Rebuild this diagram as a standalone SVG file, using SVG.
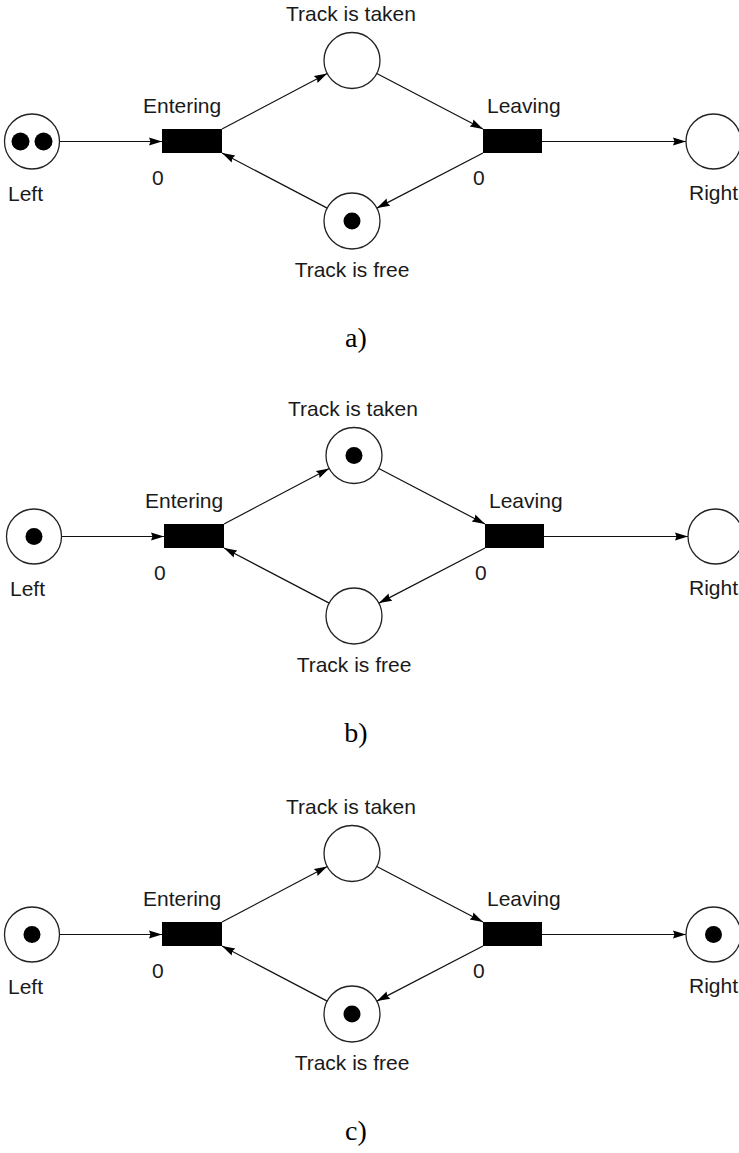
<svg xmlns="http://www.w3.org/2000/svg" width="739" height="1153" viewBox="0 0 739 1153">
<defs>
<marker id="arr" markerUnits="userSpaceOnUse" markerWidth="15" markerHeight="10" refX="13" refY="5" orient="auto">
<path d="M0,1 L13,5 L0,9 L1.5,5 z" fill="#000"/>
</marker>
<style>
.place{fill:#fff;stroke:#222;stroke-width:1.3}
.tok{fill:#000}
.tr{fill:#000}
.arc{fill:none;stroke:#111;stroke-width:1.2;marker-end:url(#arr)}
.lbl{font-family:"Liberation Sans",Arial,sans-serif;font-size:21px;fill:#1a1a1a}
.mid{text-anchor:middle}
.cap{font-family:"Liberation Serif","Times New Roman",serif;font-size:28px;fill:#000;text-anchor:middle}
</style>
</defs>
<rect width="739" height="1153" fill="#fff"/>

<!-- Panel a -->
<g id="panel-a">
<g id="a-connectors">
<line class="arc" x1="59.5" y1="141.5" x2="162" y2="141.5"/>
<line class="arc" x1="222" y1="129" x2="327.2" y2="73.5"/>
<line class="arc" x1="376.8" y1="73.5" x2="483" y2="129"/>
<line class="arc" x1="483" y1="153" x2="376.9" y2="208.1"/>
<line class="arc" x1="327.2" y1="208.1" x2="222" y2="153"/>
<line class="arc" x1="542" y1="141.5" x2="686" y2="141.5"/>
</g>
<g id="a-left"><circle class="place" cx="32" cy="141.5" r="27.5"/><circle class="tok" cx="20.5" cy="141.5" r="9"/><circle class="tok" cx="43.5" cy="141.5" r="9"/><text class="lbl" x="8" y="201">Left</text></g>
<g id="a-entering"><rect class="tr" x="162" y="129" width="60" height="24"/><text class="lbl" x="143" y="113">Entering</text><text class="lbl" x="152" y="185">0</text></g>
<g id="a-taken"><circle class="place" cx="352" cy="60.5" r="28"/><text class="lbl mid" x="351" y="21">Track is taken</text></g>
<g id="a-leaving"><rect class="tr" x="483" y="129" width="59" height="24"/><text class="lbl" x="487" y="113">Leaving</text><text class="lbl" x="473" y="185">0</text></g>
<g id="a-right"><circle class="place" cx="713.5" cy="141.5" r="27.5"/><text class="lbl" x="689" y="200">Right</text></g>
<g id="a-free"><circle class="place" cx="352" cy="221" r="28"/><circle class="tok" cx="352" cy="221" r="8.5"/><text class="lbl mid" x="352" y="277">Track is free</text></g>
<text class="cap" x="356" y="347">a)</text>
</g>

<!-- Panel b -->
<g id="panel-b" transform="translate(2,395)">
<g id="b-connectors">
<line class="arc" x1="59.5" y1="141.5" x2="162" y2="141.5"/>
<line class="arc" x1="222" y1="129" x2="327.2" y2="73.5"/>
<line class="arc" x1="376.8" y1="73.5" x2="483" y2="129"/>
<line class="arc" x1="483" y1="153" x2="376.9" y2="208.1"/>
<line class="arc" x1="327.2" y1="208.1" x2="222" y2="153"/>
<line class="arc" x1="542" y1="141.5" x2="686" y2="141.5"/>
</g>
<g id="b-left"><circle class="place" cx="32" cy="141.5" r="27.5"/><circle class="tok" cx="32" cy="141.5" r="8.5"/><text class="lbl" x="8" y="201">Left</text></g>
<g id="b-entering"><rect class="tr" x="162" y="129" width="60" height="24"/><text class="lbl" x="143" y="113">Entering</text><text class="lbl" x="152" y="185">0</text></g>
<g id="b-taken"><circle class="place" cx="352" cy="60.5" r="28"/><circle class="tok" cx="352" cy="60.5" r="8.5"/><text class="lbl mid" x="351" y="21">Track is taken</text></g>
<g id="b-leaving"><rect class="tr" x="483" y="129" width="59" height="24"/><text class="lbl" x="487" y="113">Leaving</text><text class="lbl" x="473" y="185">0</text></g>
<g id="b-right"><circle class="place" cx="713.5" cy="141.5" r="27.5"/><text class="lbl" x="687" y="200">Right</text></g>
<g id="b-free"><circle class="place" cx="352" cy="221" r="28"/><text class="lbl mid" x="352" y="277">Track is free</text></g>
<text class="cap" x="354" y="347">b)</text>
</g>

<!-- Panel c -->
<g id="panel-c" transform="translate(0,793)">
<g id="c-connectors">
<line class="arc" x1="59.5" y1="141.5" x2="162" y2="141.5"/>
<line class="arc" x1="222" y1="129" x2="327.2" y2="73.5"/>
<line class="arc" x1="376.8" y1="73.5" x2="483" y2="129"/>
<line class="arc" x1="483" y1="153" x2="376.9" y2="208.1"/>
<line class="arc" x1="327.2" y1="208.1" x2="222" y2="153"/>
<line class="arc" x1="542" y1="141.5" x2="686" y2="141.5"/>
</g>
<g id="c-left"><circle class="place" cx="32" cy="141.5" r="27.5"/><circle class="tok" cx="32" cy="141.5" r="8.5"/><text class="lbl" x="8" y="201">Left</text></g>
<g id="c-entering"><rect class="tr" x="162" y="129" width="60" height="24"/><text class="lbl" x="143" y="113">Entering</text><text class="lbl" x="152" y="185">0</text></g>
<g id="c-taken"><circle class="place" cx="352" cy="60.5" r="28"/><text class="lbl mid" x="351" y="21">Track is taken</text></g>
<g id="c-leaving"><rect class="tr" x="483" y="129" width="59" height="24"/><text class="lbl" x="487" y="113">Leaving</text><text class="lbl" x="473" y="185">0</text></g>
<g id="c-right"><circle class="place" cx="713.5" cy="141.5" r="27.5"/><circle class="tok" cx="713.5" cy="141.5" r="8.5"/><text class="lbl" x="689" y="200">Right</text></g>
<g id="c-free"><circle class="place" cx="352" cy="221" r="28"/><circle class="tok" cx="352" cy="221" r="8.5"/><text class="lbl mid" x="352" y="277">Track is free</text></g>
<text class="cap" x="356" y="347">c)</text>
</g>
</svg>
